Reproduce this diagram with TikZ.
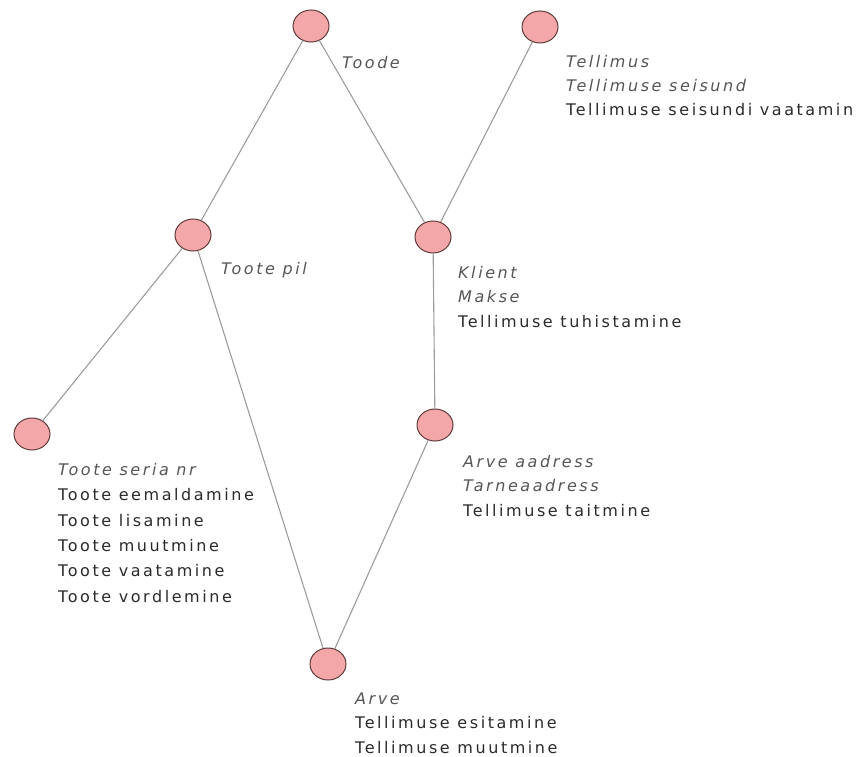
\documentclass[tikz,border=0pt]{standalone}
\usepackage{fontspec}
\usetikzlibrary{shapes.geometric}
\newfontfamily\lblfont[LetterSpace=16]{DejaVu Sans}
\definecolor{nodefill}{HTML}{F4A7A8}
\definecolor{nodeline}{HTML}{5E3A3A}
\definecolor{edgegray}{HTML}{9C9C9C}
\definecolor{txt}{HTML}{2A2A2A}
\definecolor{itxt}{HTML}{555555}
\tikzset{
  x=1pt, y=-1pt,
  vertex/.style={ellipse, draw=nodeline, fill=nodefill, line width=1pt,
    minimum width=36pt, minimum height=32pt, inner sep=0pt},
  link/.style={draw=edgegray, line width=1.1pt},
  % base anchor of a multi-line label sits on its last line
  lbl/.style={anchor=base west, inner sep=0pt, align=left, text=txt,
    font=\lblfont\fontsize{16}{24.3}\selectfont},
}
\newcommand{\attr}[1]{\textcolor{itxt}{\itshape #1}}
\begin{document}
\begin{tikzpicture}
\useasboundingbox (0,0) rectangle (868,757);

% vertices
\node[vertex] (toode)    at (311,26)  {};
\node[vertex] (tellimus) at (540,27)  {};
\node[vertex] (pil)      at (193,235) {};
\node[vertex] (klient)   at (433,237) {};
\node[vertex] (seria)    at (32,434)  {};
\node[vertex] (aadress)  at (435,425) {};
\node[vertex] (arve)     at (328,664) {};

% edges
\draw[link] (toode) -- (pil);
\draw[link] (toode) -- (klient);
\draw[link] (tellimus) -- (klient);
\draw[link] (pil) -- (seria);
\draw[link] (pil) -- (arve);
\draw[link] (klient) -- (aadress);
\draw[link] (aadress) -- (arve);

% labels
\node[lbl] (l-toode) at (342,69) {\attr{Toode}};
\node[lbl] (l-tellimus) at (566,116) {\attr{Tellimus}\\ \attr{Tellimuse seisund}\\ Tellimuse seisundi vaatamin};
\node[lbl] (l-pil) at (221,274) {\attr{Toote pil}};
\node[lbl] (l-klient) at (458,327) {\attr{Klient}\\ \attr{Makse}\\ Tellimuse tuhistamine};
\node[lbl] (l-seria) at (58,602) {\attr{Toote seria nr}\\[1pt] Toote eemaldamine\\[1pt] Toote lisamine\\[1pt] Toote muutmine\\[1pt] Toote vaatamine\\[1pt] Toote vordlemine};
\node[lbl] (l-aadress) at (463,516) {\attr{Arve aadress}\\ \attr{Tarneaadress}\\ Tellimuse taitmine};
\node[lbl] (l-arve) at (355,753) {\attr{Arve}\\ Tellimuse esitamine\\ Tellimuse muutmine};
\end{tikzpicture}
\end{document}
